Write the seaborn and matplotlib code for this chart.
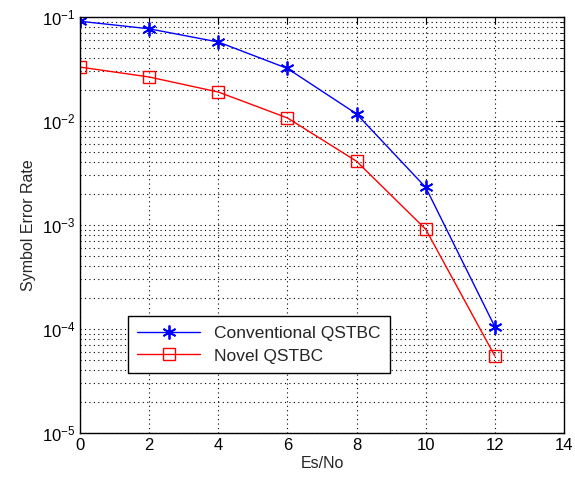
import matplotlib
matplotlib.use("Agg")
import matplotlib.pyplot as plt
import pandas as pd
import seaborn as sns
from matplotlib.ticker import LogLocator, FixedLocator

es_no = [0, 2, 4, 6, 8, 10, 12]
ser_conventional = [0.091, 0.077, 0.0575, 0.032, 0.0117, 0.0023, 1.05e-4]
ser_novel = [0.033, 0.0265, 0.019, 0.0107, 0.0041, 0.00091, 5.5e-5]
series_names = ["Conventional QSTBC", "Novel QSTBC"]
x_ticks = [0, 2, 4, 6, 8, 10, 12, 14]

df = pd.DataFrame({
    "Es/No": es_no * 2,
    "SER": ser_conventional + ser_novel,
    "scheme": [series_names[0]] * len(es_no) + [series_names[1]] * len(es_no),
})

colors = {series_names[0]: "#0000ff", series_names[1]: "#ff0000"}
# MATLAB style asterisk for the first series, open square for the second
marker_shapes = {series_names[0]: (6, 2, 0), series_names[1]: "s"}

sns.set_style("white")
plt.rcParams["font.family"] = ["Liberation Sans", "DejaVu Sans"]

fig = plt.figure(figsize=(5.75, 4.83), dpi=100)
ax = fig.add_axes([80 / 575, 1 - 433 / 483, 484 / 575, 416 / 483])

sns.lineplot(data=df, x="Es/No", y="SER", hue="scheme", style="scheme",
             palette=colors, markers=True, dashes=False, linewidth=1.0, ax=ax)


def style_line(line, name):
    c = colors[name]
    line.set_marker(marker_shapes[name])
    line.set_markeredgecolor(c)
    if name == series_names[1]:
        line.set_markerfacecolor("none")
        line.set_markersize(8)
        line.set_markeredgewidth(1.0)
    else:
        line.set_markerfacecolor(c)
        line.set_markersize(10)
        line.set_markeredgewidth(1.3)


for line, name in zip(ax.lines, series_names):
    style_line(line, name)

ax.set_yscale("log")
ax.set_xlim(0, 14)
ax.set_ylim(1e-5, 1e-1)
ax.xaxis.set_major_locator(FixedLocator(x_ticks))
ax.yaxis.set_major_locator(LogLocator(base=10, numticks=10))
ax.yaxis.set_minor_locator(LogLocator(base=10, subs=range(2, 10), numticks=10))

ax.grid(True, which="major", axis="both", color="black", linestyle=(0, (1, 3)), linewidth=0.8)
ax.grid(True, which="minor", axis="y", color="black", linestyle=(0, (1, 3)), linewidth=0.8)
ax.tick_params(which="both", direction="in", top=True, right=True, labelsize=12, colors="black")
ax.tick_params(which="major", length=5)
ax.tick_params(which="minor", length=3)
for s in ax.spines.values():
    s.set_color("black")
    s.set_linewidth(1.0)

ax.set_xlabel("Es/No", fontsize=11.5, labelpad=2)
ax.set_ylabel("Symbol Error Rate", fontsize=11.5, labelpad=4)

handles, labels = ax.get_legend_handles_labels()
leg = ax.legend(handles, labels, loc="lower left", bbox_to_anchor=(0.099, 0.144),
                borderaxespad=0, fontsize=12.5, frameon=True, fancybox=False,
                edgecolor="black", framealpha=1, handlelength=3.6,
                borderpad=0.55, labelspacing=0.45)
leg.get_frame().set_linewidth(1.0)
for h, name in zip(leg.get_lines(), labels):
    style_line(h, name)

fig.savefig("out.png", dpi=100)
